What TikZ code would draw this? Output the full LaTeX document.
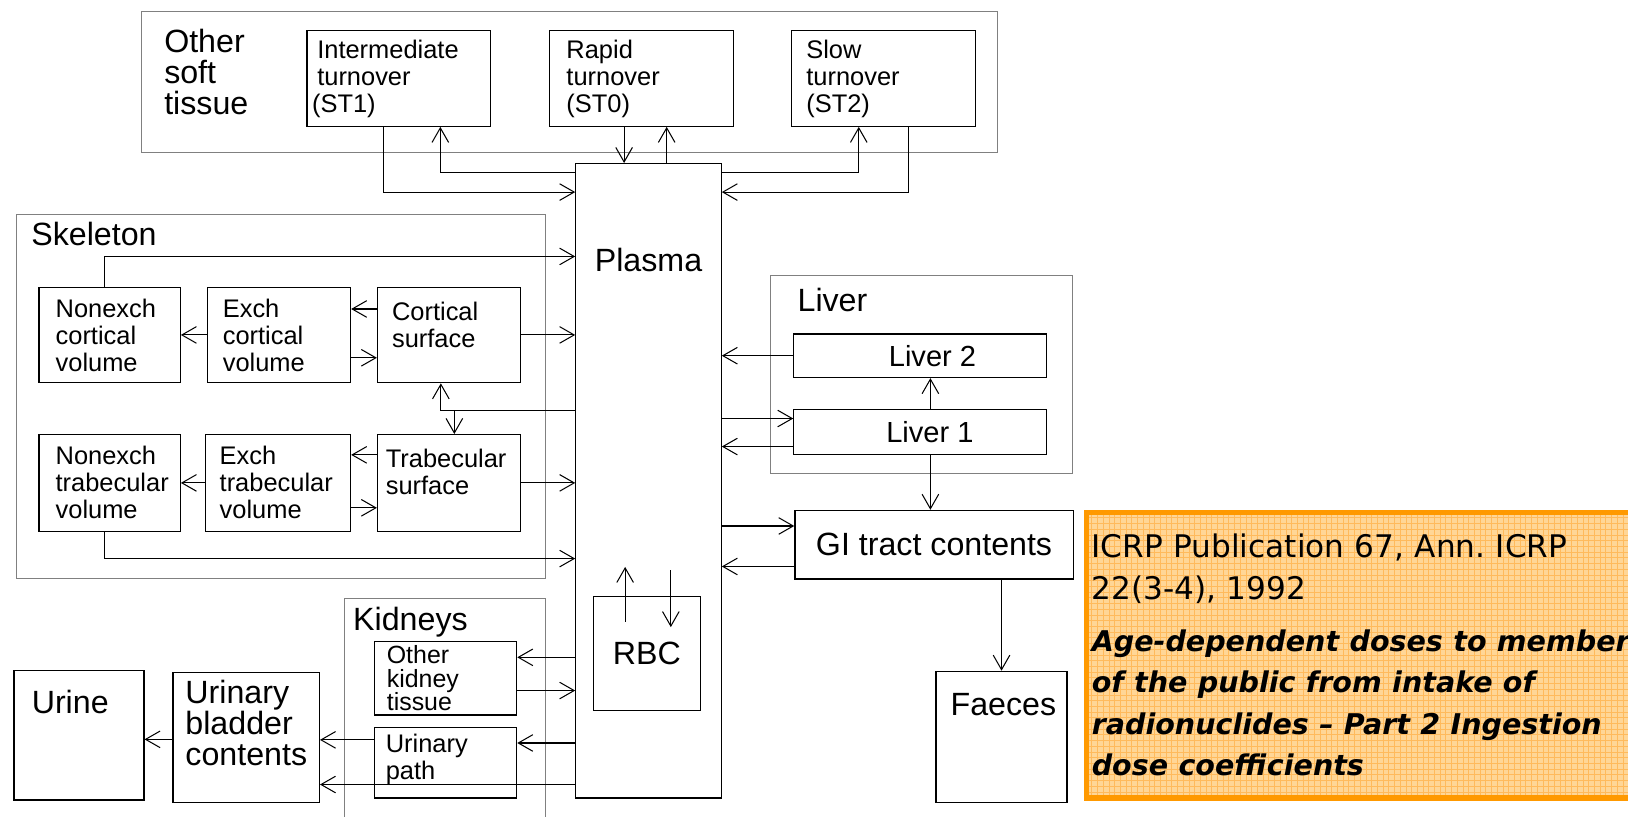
\documentclass[tikz,border=0pt]{standalone}
\usepackage{fontspec}
\setmainfont{Liberation Sans}
\newfontfamily\notefont{DejaVu Sans}
\usetikzlibrary{arrows.meta}
\definecolor{notefill}{RGB}{255,214,150}
\definecolor{notegrid}{RGB}{255,186,92}
\definecolor{noteedge}{RGB}{255,153,0}
\hyphenpenalty=10000
\frenchspacing

\begin{document}
\begin{tikzpicture}[x=1pt,y=-1pt,
  comp/.style={draw, line width=1.2pt, anchor=north west, align=left, inner sep=0pt, font=\fontsize{24.5}{26}\selectfont},
  big/.style={font=\fontsize{31}{30}\selectfont},
  group/.style={draw=black!50, line width=0.9pt, anchor=north west, inner sep=0pt},
  title/.style={big, anchor=north west, align=left, inner sep=0pt},
  flow/.style={line width=1pt, -{Straight Barb[length=14pt,width=16pt]}},
  note/.style={anchor=north west, fill=notefill, draw=noteedge, line width=5pt, minimum width=600pt, minimum height=275pt, text width=590pt, inner xsep=5pt, inner ysep=0pt, align=left, font=\notefont\fontsize{30}{40}\selectfont,
    path picture={\draw[notegrid, line width=0.6pt, step=5.5pt] (path picture bounding box.south west) grid (path picture bounding box.north east);}}]
\useasboundingbox (0,0) rectangle (1568,786);

\node[group, minimum width=824pt, minimum height=135pt] (soft) at (136,11) {};
\node[title] (soft-t) at (158,28) {Other\\soft\\tissue};
\node[comp, minimum width=177pt, minimum height=92pt, text width=157pt] (st1) at (295,29) {Intermediate\\turnover\\\hspace*{-5pt}(ST1)};
\node[comp, minimum width=177pt, minimum height=92pt, text width=145pt] (st0) at (529,29) {Rapid\\turnover\\(ST0)};
\node[comp, minimum width=177pt, minimum height=92pt, text width=149pt] (st2) at (762,29) {Slow\\turnover\\(ST2)};

\node[comp, big, minimum width=140pt, minimum height=611pt] (plasma) at (554,157) {Plasma\rule[-425pt]{0pt}{0pt}};

\node[group, minimum width=510pt, minimum height=351pt] (skel) at (15,206) {};
\node[title, anchor=base west] (skel-t) at (30,236) {Skeleton};
\node[comp, minimum width=136pt, minimum height=92pt, text width=104pt] (ncort) at (37,276) {Nonexch\\cortical\\volume};
\node[comp, minimum width=138pt, minimum height=92pt, text width=108pt] (ecort) at (199,276) {Exch\\cortical\\volume};
\node[comp, minimum width=138pt, minimum height=92pt, text width=110pt] (cort) at (363,276) {Cortical\\surface\rule[-20pt]{0pt}{0pt}};
\node[comp, minimum width=136pt, minimum height=93pt, text width=104pt] (ntrab) at (37,418) {Nonexch\\trabecular\\volume};
\node[comp, minimum width=140pt, minimum height=93pt, text width=112pt] (etrab) at (197,418) {Exch\\trabecular\\volume};
\node[comp, minimum width=138pt, minimum height=93pt, text width=122pt] (trab) at (363,418) {Trabecular\\surface\rule[-22pt]{0pt}{0pt}};

\node[group, minimum width=194pt, minimum height=220pt] (kid) at (331,576) {};
\node[title, anchor=base west] (kid-t) at (340,607) {Kidneys};
\node[comp, minimum width=137pt, minimum height=71pt, text width=113pt, font=\fontsize{24}{23}\selectfont] (okid) at (360,617) {Other\\kidney\\tissue};
\node[comp, minimum width=137pt, minimum height=68pt, text width=115pt] (upath) at (360,700) {Urinary\\path\rule[-12pt]{0pt}{0pt}};
\node[comp, big, minimum width=125pt, minimum height=125pt, text width=91pt] (urine) at (13,645) {Urine\rule[-64pt]{0pt}{0pt}};
\node[comp, big, minimum width=141pt, minimum height=125pt, text width=117pt] (bladder) at (166,647) {Urinary\\bladder\\contents\rule[-28pt]{0pt}{0pt}};
\node[comp, big, minimum width=103pt, minimum height=110pt] (rbc) at (571,574) {RBC};

\node[group, minimum width=290pt, minimum height=191pt] (liver) at (742,265) {};
\node[title, anchor=base west] (liver-t) at (768,300) {Liver};
\node[comp, minimum width=243pt, minimum height=42pt, font=\fontsize{28}{28}\selectfont] (liver2) at (764,321) {\hspace*{24pt}Liver 2};
\node[comp, minimum width=243pt, minimum height=43pt, font=\fontsize{28}{28}\selectfont] (liver1) at (764,394) {\hspace*{19pt}Liver 1};
\node[comp, big, minimum width=268pt, minimum height=66pt] (gi) at (765,491) {GI tract contents};
\node[comp, big, minimum width=126pt, minimum height=126pt, text width=98pt] (faeces) at (901,646) {Faeces\rule[-62pt]{0pt}{0pt}};

\node[note] (note) at (1044,491) {ICRP Publication 67, Ann. ICRP\\22(3-4), 1992\\[10pt]{\bfseries\itshape\fontsize{27.5}{40}\selectfont Age-dependent doses to members\\of the public from intake of\\radionuclides \textendash{} Part 2 Ingestion\\dose coefficients}};

\draw[flow] ([xshift=-15pt]st1.south) |- ([yshift=-28pt]plasma.north west);
\draw[flow] ([yshift=-9pt]plasma.north west) -| ([xshift=40pt]st1.south);
\draw[flow] ([xshift=-17pt]st0.south) -- ([xshift=-17pt]st0.south |- plasma.north);
\draw[flow] ([xshift=24pt]st0.south |- plasma.north) -- ([xshift=24pt]st0.south);
\draw[flow] ([yshift=-9pt]plasma.north east) -| ([xshift=-24pt]st2.south);
\draw[flow] ([xshift=24pt]st2.south) |- ([yshift=-28pt]plasma.north east);

\draw[flow] ([xshift=-5pt]ncort.north) |- ([yshift=-90pt]plasma.north west);
\draw[flow] (ecort.west) -- (ncort.east);
\draw[flow] ([yshift=25pt]cort.west) -- ([yshift=25pt]ecort.east);
\draw[flow] ([yshift=-22pt]ecort.east) -- ([yshift=-22pt]cort.west);
\draw[flow] (cort.east) -- (cort.east -| plasma.west);
\draw[flow] ([yshift=-238pt]plasma.north west) -| ([xshift=-8pt]cort.south);
\draw[flow] ([xshift=5pt,yshift=-238pt]cort.south |- plasma.north west) -- ([xshift=5pt]trab.north);
\draw[flow] (etrab.west) -- (ntrab.east);
\draw[flow] ([yshift=27pt]trab.west) -- ([yshift=27pt]etrab.east);
\draw[flow] ([yshift=-24pt]etrab.east) -- ([yshift=-24pt]trab.west);
\draw[flow] (trab.east) -- (trab.east -| plasma.west);
\draw[flow] ([xshift=-5pt]ntrab.south) |- ([yshift=-381pt]plasma.north west);

\draw[flow] ([yshift=20pt]okid.east -| plasma.west) -- ([yshift=20pt]okid.east);
\draw[flow] ([yshift=-12pt]okid.east) -- ([yshift=-12pt]okid.east -| plasma.west);
\draw[flow] ([yshift=19pt]upath.east -| plasma.west) -- ([yshift=19pt]upath.east);
\draw[flow] ([yshift=22pt]upath.west) -- ([yshift=22pt]upath.west -| bladder.east);
\draw[flow] ([yshift=-21pt]upath.east -| plasma.west) -- ([yshift=-21pt]upath.west -| bladder.east);
\draw[flow] ([yshift=-2pt]bladder.west) -- ([yshift=-2pt]bladder.west -| urine.east);
\draw[flow] ([xshift=-21pt,yshift=-25pt]rbc.north) -- ([xshift=-21pt,yshift=28pt]rbc.north);
\draw[flow] ([xshift=23pt,yshift=25pt]rbc.north) -- ([xshift=23pt,yshift=-30pt]rbc.north);

\draw[flow] (liver2.west) -- (liver2.west -| plasma.east);
\draw[flow] ([xshift=10pt]liver1.north) -- ([xshift=10pt]liver2.south);
\draw[flow] ([yshift=13pt]liver1.west -| plasma.east) -- ([yshift=13pt]liver1.west);
\draw[flow] ([yshift=-14pt]liver1.west) -- ([yshift=-14pt]liver1.west -| plasma.east);
\draw[flow] ([xshift=10pt]liver1.south) -- ([xshift=10pt]liver1.south |- gi.north);
\draw[flow] ([yshift=18pt]gi.west -| plasma.east) -- ([yshift=18pt]gi.west);
\draw[flow] ([yshift=-21pt]gi.west) -- ([yshift=-21pt]gi.west -| plasma.east);
\draw[flow] (faeces.north |- gi.south) -- (faeces.north);
\end{tikzpicture}
\end{document}
